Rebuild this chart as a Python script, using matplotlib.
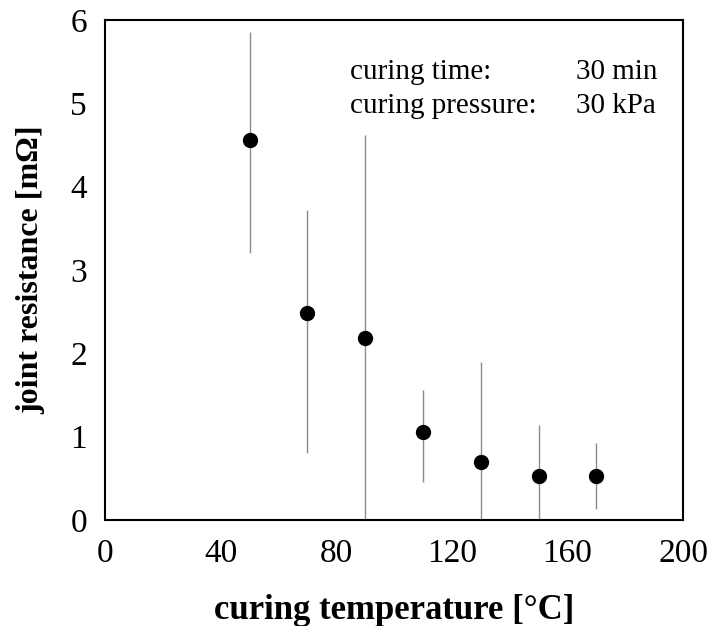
import numpy as np
import matplotlib
matplotlib.use('Agg')
import matplotlib.pyplot as plt

plt.rcParams['font.family'] = ['Liberation Serif', 'DejaVu Serif']

# curing temperature [C] and joint resistance [mOhm]
temperature = [50, 70, 90, 110, 130, 150, 170]
resistance = [4.56, 2.48, 2.19, 1.06, 0.70, 0.53, 0.53]
err_low = [3.2, 0.80, 0.0, 0.46, 0.0, 0.0, 0.13]
err_high = [5.86, 3.72, 4.62, 1.56, 1.90, 1.14, 0.93]

xticks = [0, 40, 80, 120, 160, 200]
yticks = [0, 1, 2, 3, 4, 5, 6]

fig = plt.figure(figsize=(7.14, 6.26), dpi=100)
ax = fig.add_axes([105 / 714, 1 - 520 / 626, 578 / 714, 500 / 626])

res = np.array(resistance)
yerr = [res - np.array(err_low), np.array(err_high) - res]
ax.errorbar(temperature, resistance, yerr=yerr, fmt='o', color='black',
            ecolor='#8c8c8c', elinewidth=1.0, capsize=0, markersize=10)

ax.set_xlim(0, 200)
ax.set_ylim(0, 6)
ax.set_xticks(xticks)
ax.set_yticks(yticks)
ax.tick_params(length=0, labelsize=24, pad=13)
for s in ax.spines.values():
    s.set_linewidth(1.5)

ax.set_xlabel('curing temperature [°C]', fontsize=25, fontweight='bold', labelpad=18)
ax.set_ylabel('joint resistance [mΩ]', fontsize=23, fontweight='bold', labelpad=18)

ax.text(0.424, 0.882, 'curing time:', transform=ax.transAxes, fontsize=21, va='baseline')
ax.text(0.815, 0.882, '30 min', transform=ax.transAxes, fontsize=21, va='baseline')
ax.text(0.424, 0.814, 'curing pressure:', transform=ax.transAxes, fontsize=21, va='baseline')
ax.text(0.815, 0.814, '30 kPa', transform=ax.transAxes, fontsize=21, va='baseline')

fig.savefig('out.png', dpi=100)
